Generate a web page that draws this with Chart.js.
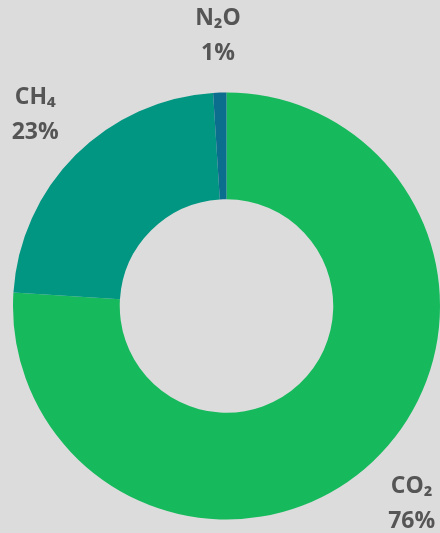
<!DOCTYPE html>
<html>
<head>
<meta charset="utf-8">
<script src="https://cdn.jsdelivr.net/npm/chart.js@4"></script>
<style>
  html, body { margin: 0; padding: 0; background: #dcdcdc; }
  #wrap { width: 440px; height: 533px; position: relative; }
</style>
</head>
<body>
<div id="wrap"><canvas id="chart"></canvas></div>
<script>
// datos del gráfico
const gases = ['CO₂', 'CH₄', 'N₂O'];
const porcentajes = [76, 23, 1];
const colores = ['#16b95c', '#009682', '#0b6e8e'];

// etiquetas fuera del anillo, sobre el ángulo medio de cada sector
const etiquetas = {
  id: 'etiquetas',
  afterDraw(chart) {
    const ctx = chart.ctx;
    const meta = chart.getDatasetMeta(0);
    ctx.save();
    ctx.fillStyle = '#555555';
    ctx.font = 'bold 23px "Open Sans", "DejaVu Sans", sans-serif';
    ctx.textAlign = 'center';
    ctx.textBaseline = 'middle';
    meta.data.forEach((arc, i) => {
      const p = arc.getProps(['x', 'y', 'startAngle', 'endAngle', 'outerRadius'], true);
      const mid = (p.startAngle + p.endAngle) / 2;
      const r = p.outerRadius + 57;
      const x = p.x + Math.cos(mid) * r;
      const y = p.y + Math.sin(mid) * r;
      ctx.fillText(gases[i], x, y - 17);
      ctx.fillText(porcentajes[i] + '%', x, y + 18);
    });
    ctx.restore();
  }
};

new Chart(document.getElementById('chart'), {
  type: 'doughnut',
  data: {
    labels: gases,
    datasets: [{
      data: porcentajes,
      backgroundColor: colores,
      borderWidth: 0
    }]
  },
  options: {
    responsive: true,
    maintainAspectRatio: false,
    animation: false,
    cutout: '50%',
    layout: { padding: { top: 92, bottom: 13, left: 13, right: 0 } },
    plugins: { legend: { display: false }, tooltip: { enabled: false } }
  },
  plugins: [etiquetas]
});
</script>
</body>
</html>
